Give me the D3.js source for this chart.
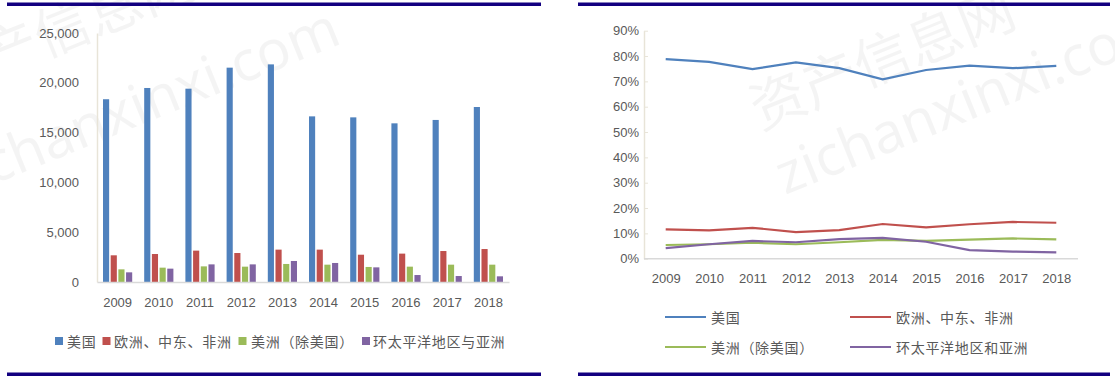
<!DOCTYPE html>
<html>
<head>
<meta charset="utf-8">
<script src="https://cdn.jsdelivr.net/npm/d3@7"></script>
<style>
  body { margin: 0; background: #fff; }
  text { font-family: "Liberation Sans", Arial, sans-serif; }
  .cjk { font-family: "Noto Sans CJK SC", sans-serif; }
</style>
</head>
<body>
<script>
// categories
var years = ["2009", "2010", "2011", "2012", "2013", "2014", "2015", "2016", "2017", "2018"];
var barRegions = ["美国", "欧洲、中东、非洲", "美洲（除美国）", "环太平洋地区与亚洲"];
var lineRegions = ["美国", "欧洲、中东、非洲", "美洲（除美国）", "环太平洋地区和亚洲"];
var colors = ["#4f81bd", "#c0504d", "#9bbb59", "#8064a2"];

// left chart: revenue by region
var usRevenue       = [18350, 19480, 19410, 21520, 21850, 16630, 16530, 15930, 16270, 17570];
var emeaRevenue     = [2680, 2810, 3150, 2910, 3250, 3250, 2740, 2850, 3110, 3310];
var americasRevenue = [1270, 1440, 1570, 1540, 1810, 1740, 1510, 1540, 1740, 1740];
var apacRevenue     = [970, 1340, 1770, 1770, 2110, 1910, 1470, 700, 600, 570];
var revenueTicks = [0, 5000, 10000, 15000, 20000, 25000];

// right chart: share by region
var usShare       = [0.788, 0.777, 0.748, 0.775, 0.752, 0.708, 0.745, 0.762, 0.752, 0.761];
var emeaShare     = [0.116, 0.112, 0.122, 0.105, 0.113, 0.137, 0.124, 0.136, 0.145, 0.142];
var americasShare = [0.054, 0.057, 0.063, 0.057, 0.065, 0.074, 0.070, 0.075, 0.080, 0.076];
var apacShare     = [0.042, 0.057, 0.070, 0.065, 0.077, 0.082, 0.067, 0.034, 0.028, 0.025];
var shareTicks = [0, 0.1, 0.2, 0.3, 0.4, 0.5, 0.6, 0.7, 0.8, 0.9];

var revenue = [usRevenue, emeaRevenue, americasRevenue, apacRevenue];
var share = [usShare, emeaShare, americasShare, apacShare];

var textColor = "#595959";

var svg = d3.select("body")
    .append("svg")
    .attr("width", 1115)
    .attr("height", 379);

// faint watermark
var wm = svg.append("g")
    .attr("fill", "#000")
    .attr("fill-opacity", 0.045)
    .attr("font-size", 56);
[[-60, 100, "资产信息网", true], [-45, 200, "zichanxinxi.com", false],
 [760, 130, "资产信息网", true], [785, 195, "zichanxinxi.com", false]].forEach(function(w) {
  wm.append("text")
    .attr("class", w[3] ? "cjk" : null)
    .attr("transform", "translate(" + w[0] + "," + w[1] + ") rotate(-22)")
    .style("font-family", w[3] ? null : "'Noto Sans', sans-serif")
    .text(w[2]);
});

// frame bars
[[7, 541], [578, 1110]].forEach(function(r) {
  svg.append("rect").attr("x", r[0]).attr("y", 2.5).attr("width", r[1] - r[0]).attr("height", 3.5).attr("fill", "#120080");
  svg.append("rect").attr("x", r[0]).attr("y", 372.5).attr("width", r[1] - r[0]).attr("height", 3.5).attr("fill", "#120080");
});

// ---------- left: grouped bars ----------
var x0 = d3.scaleBand().domain(years).range([97, 509]);
var x1 = d3.scaleBand().domain(d3.range(4)).range([6, x0.bandwidth() - 6]).paddingInner(0.2);
var yL = d3.scaleLinear().domain([0, 25000]).range([282, 33]);

var left = svg.append("g");

left.append("g")
    .attr("transform", "translate(97,0)")
    .call(d3.axisLeft(yL).tickValues(revenueTicks).tickFormat(d3.format(",")).tickSize(0).tickPadding(18))
    .call(function(g) {
      g.select(".domain").attr("stroke", "#e8e4d8").attr("stroke-width", 1.5);
      g.selectAll("text").attr("fill", textColor).attr("font-size", 13).style("font-family", "'Liberation Sans', Arial, sans-serif");
    });

var groups = left.selectAll(".yr")
    .data(years)
    .enter().append("g")
    .attr("transform", function(d) { return "translate(" + x0(d) + ",0)"; });

groups.selectAll("rect")
    .data(function(d, i) { return revenue.map(function(s, k) { return {k: k, v: s[i]}; }); })
    .enter().append("rect")
    .attr("x", function(d) { return x1(d.k); })
    .attr("width", x1.bandwidth())
    .attr("y", function(d) { return yL(d.v); })
    .attr("height", function(d) { return yL(0) - yL(d.v); })
    .attr("fill", function(d) { return colors[d.k]; });

left.append("g")
    .attr("transform", "translate(0,282)")
    .call(d3.axisBottom(x0).tickSize(0).tickPadding(16))
    .call(function(g) {
      g.select(".domain").attr("stroke", "#d9d9d9").attr("stroke-width", 1.5);
      g.selectAll("text").attr("fill", textColor).attr("font-size", 13).style("font-family", "'Liberation Sans', Arial, sans-serif");
    });

var legL = [[55, 67], [102.5, 114], [238.5, 251], [362, 373]];
barRegions.forEach(function(name, k) {
  left.append("rect")
    .attr("x", legL[k][0]).attr("y", 337).attr("width", 8).attr("height", 8)
    .attr("fill", colors[k]);
  left.append("text")
    .attr("class", "cjk")
    .attr("x", legL[k][1]).attr("y", 341)
    .attr("dominant-baseline", "central")
    .attr("font-size", 14)
    .attr("letter-spacing", 0.7)
    .attr("fill", textColor)
    .text(name);
});

// ---------- right: share lines ----------
var xR = d3.scalePoint().domain(years).range([644, 1078]).padding(0.5);
var yR = d3.scaleLinear().domain([0, 0.9]).range([258.7, 30.7]);

var right = svg.append("g");

right.append("g")
    .attr("transform", "translate(644,0)")
    .call(d3.axisLeft(yR).tickValues(shareTicks).tickFormat(d3.format(".0%")).tickSize(-4).tickSizeOuter(0).tickPadding(5))
    .call(function(g) {
      g.select(".domain").attr("stroke", "#e8e4d8").attr("stroke-width", 1.5);
      g.selectAll(".tick line").attr("stroke", "#e8e4d8");
      g.selectAll("text").attr("fill", textColor).attr("font-size", 13).style("font-family", "'Liberation Sans', Arial, sans-serif");
    });

right.append("g")
    .attr("transform", "translate(0,258.7)")
    .call(d3.axisBottom(xR).tickSize(0).tickPadding(15.5))
    .call(function(g) {
      g.select(".domain").attr("d", "M644,0H1078").attr("stroke", "#d9d9d9").attr("stroke-width", 1.5);
      g.selectAll("text").attr("fill", textColor).attr("font-size", 13).style("font-family", "'Liberation Sans', Arial, sans-serif");
    });

var line = d3.line()
    .x(function(d, i) { return xR(years[i]); })
    .y(function(d) { return yR(d); });

share.forEach(function(s, k) {
  right.append("path")
    .datum(s)
    .attr("d", line)
    .attr("fill", "none")
    .attr("stroke", colors[k])
    .attr("stroke-width", 2.2);
});

var legR = [[665, 317], [850, 317], [665, 347], [850, 347]];
lineRegions.forEach(function(name, k) {
  right.append("line")
    .attr("x1", legR[k][0]).attr("x2", legR[k][0] + 41)
    .attr("y1", legR[k][1]).attr("y2", legR[k][1])
    .attr("stroke", colors[k]).attr("stroke-width", 2.2);
  right.append("text")
    .attr("class", "cjk")
    .attr("x", legR[k][0] + 46).attr("y", legR[k][1])
    .attr("dominant-baseline", "central")
    .attr("font-size", 14)
    .attr("letter-spacing", 0.7)
    .attr("fill", textColor)
    .text(name);
});
</script>
</body>
</html>
